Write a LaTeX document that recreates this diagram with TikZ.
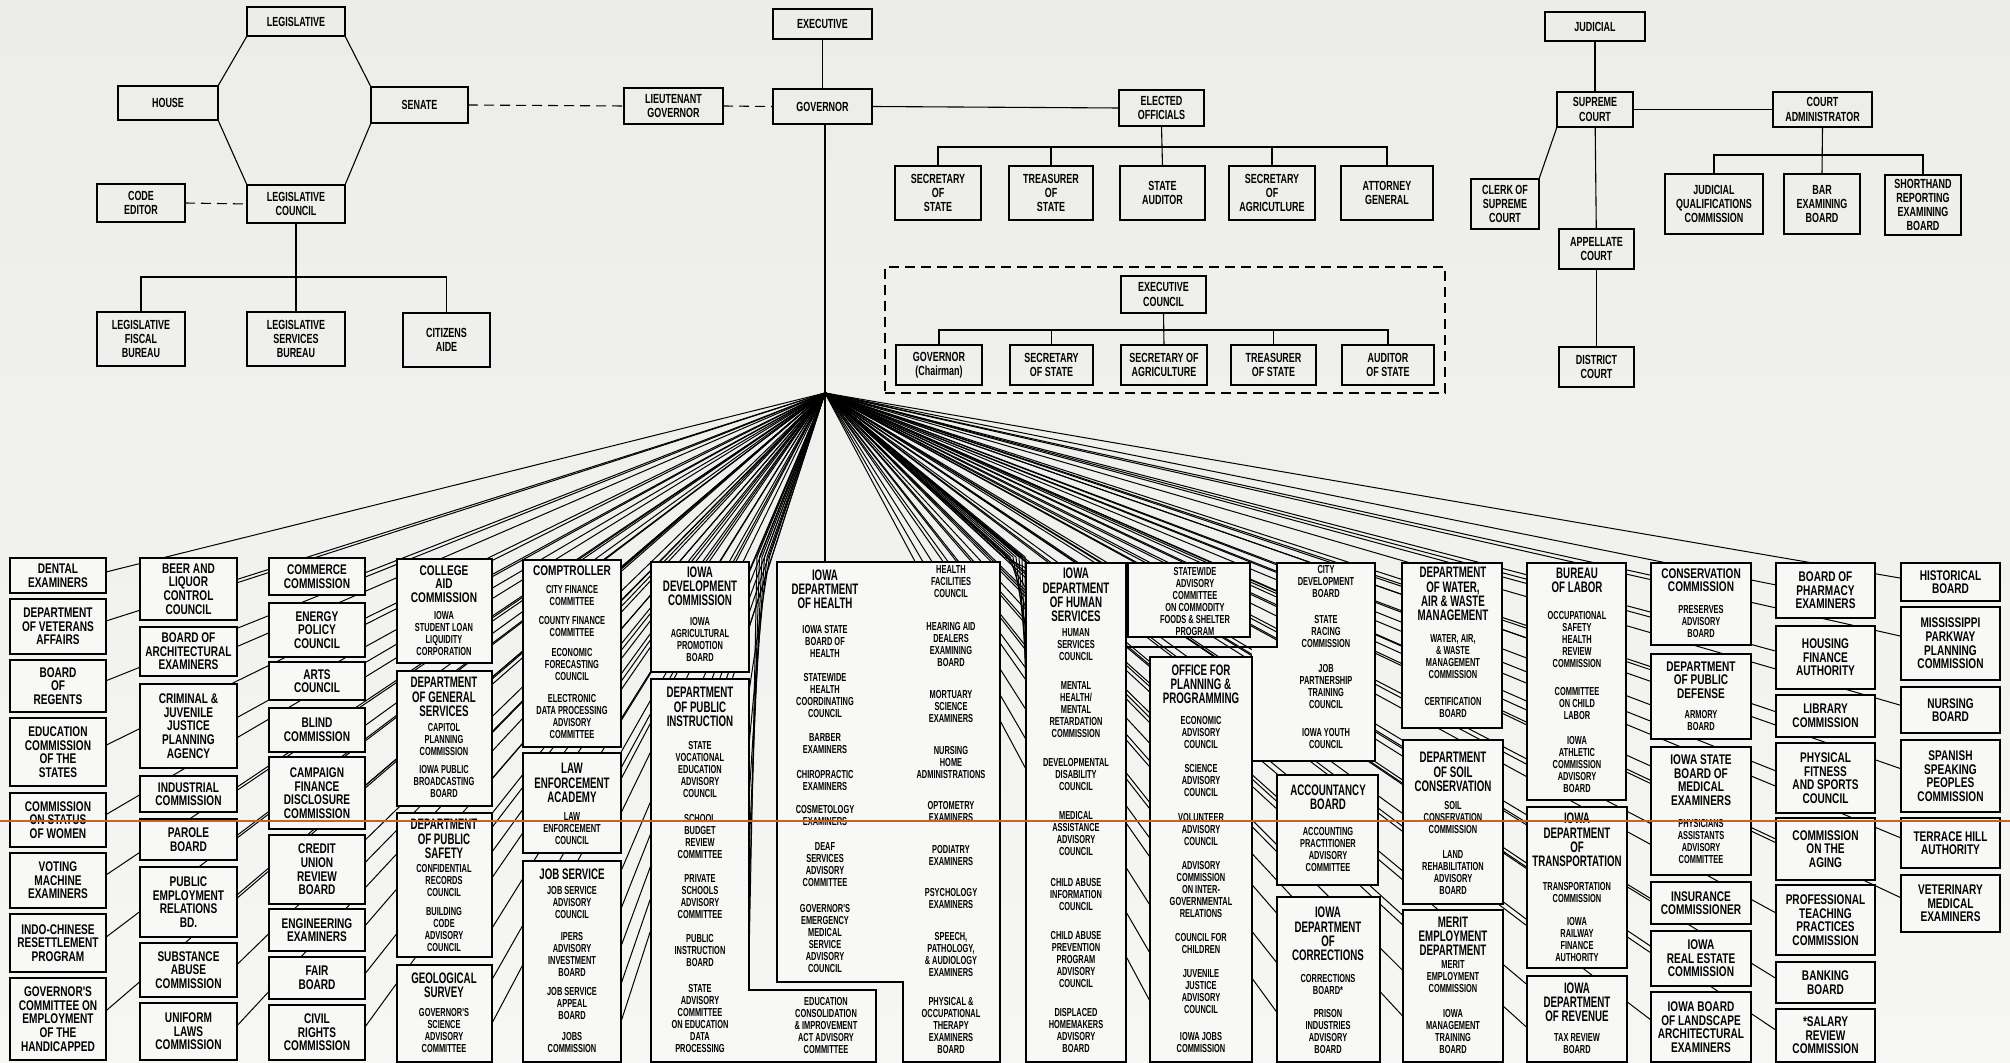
\documentclass[tikz,border=0pt]{standalone}
\usepackage{fontspec}
\setmainfont{Liberation Sans}
\newfontfamily\fA{Liberation Sans}[FakeStretch=0.72]
\newfontfamily\fB{Liberation Sans}[FakeStretch=0.64]
\newfontfamily\fT{Liberation Sans}[FakeStretch=0.68]
\usetikzlibrary{calc}
\pgfdeclarelayer{back}\pgfdeclarelayer{bg}
\pgfsetlayers{back,bg,main}
\definecolor{boxfill}{RGB}{248,248,246}
\definecolor{papertop}{RGB}{236,236,233}
\definecolor{paperbot}{RGB}{246,246,244}
\definecolor{scanline}{RGB}{196,100,40}
\newcommand\ftitle{\fA\bfseries\fontsize{7}{6.8}\selectfont}
\newcommand\fdept{\fB\bfseries\fontsize{7.6}{7.1}\selectfont}
\newcommand\fsub{\fB\bfseries\fontsize{5.8}{6.0}\selectfont}
\newcommand\ftop{\fT\bfseries\fontsize{6.6}{7.1}\selectfont}
\newcounter{tnum}
% [style]{name}{x1}{y1}{x2}{y2}{text}
\newcommand\bxt[7][box]{%
  \pgfmathsetmacro\bxw{(#5-#3)/2}\pgfmathsetmacro\bxh{(#6-#4)/2}%
  \node[#1, minimum width=\bxw pt, minimum height=\bxh pt, anchor=north west] (#2) at (#3,#4) {#7};}
\newcommand\tx[4]{\stepcounter{tnum}\edef\tname{t\arabic{tnum}}%
  \node[txt, font=#3] (\tname) at (#1,#2) {#4};}
\newcommand\fanto[5]{%
  \foreach \k in {1,...,#3}{%
    \pgfmathsetmacro\ff{#4+(#5-#4)*(\k-1)/max(#3-1,1)}%
    \draw[fanline] (hub) -- ($(#1.north #2)!\ff!(#1.south #2)$);}}
\newcommand\fanvia[7]{%
  \foreach \k in {1,...,#3}{%
    \pgfmathsetmacro\ff{#4+(#5-#4)*(\k-1)/max(#3-1,1)}%
    \draw[fanline] (hub) -- ($(#6)+(\k*#7,0)$) -- ($(#1.north #2)!\ff!(#1.south #2)$);}}
\begin{document}
\begin{tikzpicture}[x=0.5pt,y=-0.5pt,
  box/.style={draw, line width=0.65pt, fill=boxfill, inner sep=1pt, outer sep=0pt},
  sbox/.style={box, font=\ftitle, align=center},
  ghost/.style={draw=none, inner sep=0pt, outer sep=0pt},
  dashbox/.style={draw, line width=0.55pt, dash pattern=on 5pt off 3pt, inner sep=0pt, outer sep=0pt},
  topbox/.style={draw, line width=0.55pt, inner sep=1pt, outer sep=0pt, font=\ftop, align=center},
  txt/.style={inner sep=0pt, align=center},
  fanline/.style={line width=0.5pt},
  link/.style={line width=0.55pt},
  dlink/.style={line width=0.55pt, dash pattern=on 5pt off 3pt}]
\useasboundingbox (0,0) rectangle (2010,1063);
\begin{pgfonlayer}{back}
\shade[top color=papertop, bottom color=paperbot] (0,0) rectangle (2010,1063);
\end{pgfonlayer}

% ---------------- LEGISLATIVE ----------------
\bxt[topbox]{leg}{247}{7}{345}{36}{LEGISLATIVE}
\bxt[topbox]{house}{118}{86}{218}{120}{HOUSE}
\bxt[topbox]{senate}{371}{87}{468}{123}{SENATE}
\bxt[topbox]{lcouncil}{247}{185}{345}{223}{LEGISLATIVE\\COUNCIL}
\bxt[topbox]{code}{97}{184}{185}{222}{CODE\\EDITOR}
\bxt[topbox]{lfb}{97}{312}{185}{366}{LEGISLATIVE\\FISCAL\\BUREAU}
\bxt[topbox]{lsb}{247}{312}{345}{366}{LEGISLATIVE\\SERVICES\\BUREAU}
\bxt[topbox]{aide}{403}{313}{490}{367}{CITIZENS\\AIDE}
\draw[link] (leg.south west) -- (house.north east) -- (house.south east) -- (lcouncil.north west);
\draw[link] (leg.south east) -- (senate.north west) -- (senate.south west) -- (lcouncil.north east);
\coordinate (lbus) at (296,277);
\draw[link] (lcouncil.south) -- (lsb.north);
\draw[link] (lfb.north) |- (lbus) -| (aide.north);
\draw[dlink] (code.east) -- (lcouncil.west);

% ---------------- EXECUTIVE ----------------
\bxt[topbox]{exec}{773}{9}{872}{39}{EXECUTIVE}
\bxt[topbox]{gov}{773}{89}{872}{124}{GOVERNOR}
\bxt[topbox]{ltgov}{624}{88}{723}{124}{LIEUTENANT\\GOVERNOR}
\bxt[topbox]{elected}{1119}{90}{1204}{126}{ELECTED\\OFFICIALS}
\draw[dlink] (senate.east) -- (ltgov.west);
\draw[dlink] (ltgov.east) -- (gov.west);
\draw[link] (exec) -- (gov);
\draw[link] (gov.east) -- (elected.west);
\bxt[topbox]{sos}{895}{166}{981}{220}{SECRETARY\\OF\\STATE}
\bxt[topbox]{treas}{1009}{166}{1093}{220}{TREASURER\\OF\\STATE}
\bxt[topbox]{aud}{1120}{166}{1205}{220}{STATE\\AUDITOR}
\bxt[topbox]{sag}{1229}{166}{1315}{220}{SECRETARY\\OF\\AGRICUTLURE}
\bxt[topbox]{ag}{1341}{166}{1433}{220}{ATTORNEY\\GENERAL}
\coordinate (ebus) at (1162,147);
\draw[link] (elected.south) -- (aud.north);
\draw[link] (sos.north) |- (ebus) -| (ag.north);
\draw[link] (treas.north) -- (treas.north |- ebus);
\draw[link] (sag.north) -- (sag.north |- ebus);
\bxt[dashbox]{ecgroup}{885}{267}{1445}{393}{}
\bxt[topbox]{ec}{1121}{276}{1206}{313}{EXECUTIVE\\COUNCIL}
\bxt[topbox]{cgov}{896}{345}{982}{385}{GOVERNOR\\(Chairman)}
\bxt[topbox]{csos}{1010}{345}{1093}{385}{SECRETARY\\OF STATE}
\bxt[topbox]{csag}{1121}{345}{1207}{385}{SECRETARY OF\\AGRICULTURE}
\bxt[topbox]{ctreas}{1231}{345}{1316}{385}{TREASURER\\OF STATE}
\bxt[topbox]{caud}{1342}{345}{1434}{385}{AUDITOR\\OF STATE}
\coordinate (cbus) at (1164,330);
\draw[link] (ec.south) -- (csag.north);
\draw[link] (cgov.north) |- (cbus) -| (caud.north);
\draw[link] (csos.north) -- (csos.north |- cbus);
\draw[link] (ctreas.north) -- (ctreas.north |- cbus);

% ---------------- JUDICIAL ----------------
\bxt[topbox]{jud}{1545}{12}{1645}{41}{JUDICIAL}
\bxt[topbox]{sup}{1557}{92}{1633}{127}{SUPREME\\COURT}
\bxt[topbox]{cadm}{1773}{92}{1872}{127}{COURT\\ADMINISTRATOR}
\bxt[topbox]{clerk}{1471}{179}{1539}{229}{CLERK OF\\SUPREME\\COURT}
\bxt[topbox]{app}{1559}{229}{1634}{269}{APPELLATE\\COURT}
\bxt[topbox]{dist}{1559}{347}{1634}{387}{DISTRICT\\COURT}
\bxt[topbox]{jqc}{1665}{174}{1763}{234}{JUDICIAL\\QUALIFICATIONS\\COMMISSION}
\bxt[topbox]{bar}{1784}{174}{1860}{234}{BAR\\EXAMINING\\BOARD}
\bxt[topbox]{shr}{1885}{175}{1961}{235}{SHORTHAND\\REPORTING\\EXAMINING\\BOARD}
\coordinate (jbus) at (1822,155);
\draw[link] (jud) -- (sup);
\draw[link] (sup) -- (app);
\draw[link] (app) -- (dist);
\draw[link] (sup.south west) -- (clerk.north east);
\draw[link] (sup.east) -- (cadm.west);
\draw[link] (cadm.south) -- (bar.north);
\draw[link] (jqc.north) |- (jbus) -| (shr.north);

% ---------------- HUB ----------------
\coordinate (hub) at (825,393);
\coordinate (healthtop) at (825,562);
\coordinate (viaPI) at (772,557);
\coordinate (viaHS) at (1001,557);
\draw[link] (gov.south -| hub) -- (hub) -- (healthtop);

% ---------------- COLUMN 1 ----------------
\bxt[sbox]{c1a}{10}{558}{106}{593}{DENTAL\\EXAMINERS}
\bxt[sbox]{c1b}{10}{599}{106}{654}{DEPARTMENT\\OF VETERANS\\AFFAIRS}
\bxt[sbox]{c1c}{10}{660}{106}{712}{BOARD\\OF\\REGENTS}
\bxt[sbox]{c1d}{10}{718}{106}{786}{EDUCATION\\COMMISSION\\OF THE\\STATES}
\bxt[sbox]{c1e}{10}{793}{106}{847}{COMMISSION\\ON STATUS\\OF WOMEN}
\bxt[sbox]{c1f}{10}{853}{106}{908}{VOTING\\MACHINE\\EXAMINERS}
\bxt[sbox]{c1g}{10}{914}{106}{972}{INDO-CHINESE\\RESETTLEMENT\\PROGRAM}
\bxt[sbox]{c1h}{10}{978}{106}{1060}{GOVERNOR'S\\COMMITTEE ON\\EMPLOYMENT\\OF THE\\HANDICAPPED}
% ---------------- COLUMN 2 ----------------
\bxt[sbox]{c2a}{140}{558}{237}{620}{BEER AND\\LIQUOR\\CONTROL\\COUNCIL}
\bxt[sbox]{c2b}{140}{627}{237}{676}{BOARD OF\\ARCHITECTURAL\\EXAMINERS}
\bxt[sbox]{c2c}{140}{684}{237}{768}{CRIMINAL \&\\JUVENILE\\JUSTICE\\PLANNING\\AGENCY}
\bxt[sbox]{c2d}{140}{776}{237}{812}{INDUSTRIAL\\COMMISSION}
\bxt[sbox]{c2e}{140}{819}{237}{860}{PAROLE\\BOARD}
\bxt[sbox]{c2f}{140}{867}{237}{937}{PUBLIC\\EMPLOYMENT\\RELATIONS\\BD.}
\bxt[sbox]{c2g}{140}{943}{237}{997}{SUBSTANCE\\ABUSE\\COMMISSION}
\bxt[sbox]{c2h}{140}{1003}{237}{1060}{UNIFORM\\LAWS\\COMMISSION}
% ---------------- COLUMN 3 ----------------
\bxt[sbox]{c3a}{269}{558}{365}{595}{COMMERCE\\COMMISSION}
\bxt[sbox]{c3b}{269}{603}{365}{657}{ENERGY\\POLICY\\COUNCIL}
\bxt[sbox]{c3c}{269}{662}{365}{700}{ARTS\\COUNCIL}
\bxt[sbox]{c3d}{269}{708}{365}{752}{BLIND\\COMMISSION}
\bxt[sbox]{c3e}{269}{757}{365}{829}{CAMPAIGN\\FINANCE\\DISCLOSURE\\COMMISSION}
\bxt[sbox]{c3f}{269}{835}{365}{904}{CREDIT\\UNION\\REVIEW\\BOARD}
\bxt[sbox]{c3g}{269}{909}{365}{951}{ENGINEERING\\EXAMINERS}
\bxt[sbox]{c3h}{269}{957}{365}{999}{FAIR\\BOARD}
\bxt[sbox]{c3i}{269}{1005}{365}{1060}{CIVIL\\RIGHTS\\COMMISSION}
% ---------------- COLUMN 4 ----------------
\bxt{caid}{397}{559}{492}{663}{}
\tx{444}{584}{\ftitle}{COLLEGE\\AID\\COMMISSION}
\tx{444}{634}{\fsub}{IOWA\\STUDENT LOAN\\LIQUIDITY\\CORPORATION}
\bxt{gsvc}{397}{671}{492}{806}{}
\tx{444}{697}{\fdept}{DEPARTMENT\\OF GENERAL\\SERVICES}
\tx{444}{740}{\fsub}{CAPITOL\\PLANNING\\COMMISSION}
\tx{444}{782}{\fsub}{IOWA PUBLIC\\BROADCASTING\\BOARD}
\bxt{psaf}{397}{813}{492}{957}{}
\tx{444}{839}{\fdept}{DEPARTMENT\\OF PUBLIC\\SAFETY}
\tx{444}{881}{\fsub}{CONFIDENTIAL\\RECORDS\\COUNCIL}
\tx{444}{930}{\fsub}{BUILDING\\CODE\\ADVISORY\\COUNCIL}
\bxt{geo}{397}{965}{492}{1062}{}
\tx{444}{985}{\fdept}{GEOLOGICAL\\SURVEY}
\tx{444}{1031}{\fsub}{GOVERNOR'S\\SCIENCE\\ADVISORY\\COMMITTEE}
% ---------------- COLUMN 5 ----------------
\bxt{comp}{523}{560}{621}{747}{}
\tx{572}{571}{\ftitle}{COMPTROLLER}
\tx{572}{596}{\fsub}{CITY FINANCE\\COMMITTEE}
\tx{572}{627}{\fsub}{COUNTY FINANCE\\COMMITTEE}
\tx{572}{665}{\fsub}{ECONOMIC\\FORECASTING\\COUNCIL}
\tx{572}{717}{\fsub}{ELECTRONIC\\DATA PROCESSING\\ADVISORY\\COMMITTEE}
\bxt{law}{523}{753}{621}{853}{}
\tx{572}{783}{\fdept}{LAW\\ENFORCEMENT\\ACADEMY}
\tx{572}{829}{\fsub}{LAW\\ENFORCEMENT\\COUNCIL}
\bxt{job}{523}{861}{621}{1062}{}
\tx{572}{874}{\fdept}{JOB SERVICE}
\tx{572}{903}{\fsub}{JOB SERVICE\\ADVISORY\\COUNCIL}
\tx{572}{955}{\fsub}{IPERS\\ADVISORY\\INVESTMENT\\BOARD}
\tx{572}{1004}{\fsub}{JOB SERVICE\\APPEAL\\BOARD}
\tx{572}{1043}{\fsub}{JOBS\\COMMISSION}
% ---------------- COLUMN 6 ----------------
\bxt{dev}{651}{562}{749}{672}{}
\tx{700}{586}{\fdept}{IOWA\\DEVELOPMENT\\COMMISSION}
\tx{700}{640}{\fsub}{IOWA\\AGRICULTURAL\\PROMOTION\\BOARD}
\filldraw[line width=0.65pt, fill=boxfill] (651,679) -- (749,679) -- (749,990) -- (876,990) -- (876,1062) -- (651,1062) -- cycle;
\bxt[ghost]{pubi}{651}{679}{749}{990}{}
\tx{700}{707}{\fdept}{DEPARTMENT\\OF PUBLIC\\INSTRUCTION}
\tx{700}{770}{\fsub}{STATE\\VOCATIONAL\\EDUCATION\\ADVISORY\\COUNCIL}
\tx{700}{837}{\fsub}{SCHOOL\\BUDGET\\REVIEW\\COMMITTEE}
\tx{700}{897}{\fsub}{PRIVATE\\SCHOOLS\\ADVISORY\\COMMITTEE}
\tx{700}{951}{\fsub}{PUBLIC\\INSTRUCTION\\BOARD}
\tx{700}{1019}{\fsub}{STATE\\ADVISORY\\COMMITTEE\\ON EDUCATION\\DATA\\PROCESSING}
\tx{826}{1026}{\fsub}{EDUCATION\\CONSOLIDATION\\\& IMPROVEMENT\\ACT ADVISORY\\COMMITTEE}
% ---------------- HEALTH ----------------
\filldraw[line width=0.65pt, fill=boxfill] (777,562) -- (1000,562) -- (1000,1062) -- (903,1062) -- (903,982) -- (777,982) -- cycle;
\tx{825}{589}{\fdept}{IOWA\\DEPARTMENT\\OF HEALTH}
\tx{825}{641}{\fsub}{IOWA STATE\\BOARD OF\\HEALTH}
\tx{825}{696}{\fsub}{STATEWIDE\\HEALTH\\COORDINATING\\COUNCIL}
\tx{825}{744}{\fsub}{BARBER\\EXAMINERS}
\tx{825}{781}{\fsub}{CHIROPRACTIC\\EXAMINERS}
\tx{825}{816}{\fsub}{COSMETOLOGY\\EXAMINERS}
\tx{825}{865}{\fsub}{DEAF\\SERVICES\\ADVISORY\\COMMITTEE}
\tx{825}{939}{\fsub}{GOVERNOR'S\\EMERGENCY\\MEDICAL\\SERVICE\\ADVISORY\\COUNCIL}
\tx{951}{582}{\fsub}{HEALTH\\FACILITIES\\COUNCIL}
\tx{951}{645}{\fsub}{HEARING AID\\DEALERS\\EXAMINING\\BOARD}
\tx{951}{707}{\fsub}{MORTUARY\\SCIENCE\\EXAMINERS}
\tx{951}{763}{\fsub}{NURSING\\HOME\\ADMINISTRATIONS}
\tx{951}{812}{\fsub}{OPTOMETRY\\EXAMINERS}
\tx{951}{856}{\fsub}{PODIATRY\\EXAMINERS}
\tx{951}{899}{\fsub}{PSYCHOLOGY\\EXAMINERS}
\tx{951}{955}{\fsub}{SPEECH,\\PATHOLOGY,\\\& AUDIOLOGY\\EXAMINERS}
\tx{951}{1026}{\fsub}{PHYSICAL \&\\OCCUPATIONAL\\THERAPY\\EXAMINERS\\BOARD}
% ---------------- HUMAN SERVICES ----------------
\bxt{hum}{1026}{563}{1126}{1062}{}
\tx{1076}{595}{\fdept}{IOWA\\DEPARTMENT\\OF HUMAN\\SERVICES}
\tx{1076}{645}{\fsub}{HUMAN\\SERVICES\\COUNCIL}
\tx{1076}{710}{\fsub}{MENTAL\\HEALTH/\\MENTAL\\RETARDATION\\COMMISSION}
\tx{1076}{775}{\fsub}{DEVELOPMENTAL\\DISABILITY\\COUNCIL}
\tx{1076}{834}{\fsub}{MEDICAL\\ASSISTANCE\\ADVISORY\\COUNCIL}
\tx{1076}{895}{\fsub}{CHILD ABUSE\\INFORMATION\\COUNCIL}
\tx{1076}{960}{\fsub}{CHILD ABUSE\\PREVENTION\\PROGRAM\\ADVISORY\\COUNCIL}
\tx{1076}{1031}{\fsub}{DISPLACED\\HOMEMAKERS\\ADVISORY\\BOARD}
% ---------------- STATEWIDE / OFFICE ----------------
\bxt{sw}{1128}{563}{1250}{637}{}
\tx{1195}{602}{\fsub}{STATEWIDE\\ADVISORY\\COMMITTEE\\ON COMMODITY\\FOODS \& SHELTER\\PROGRAM}
\fill[boxfill] (1252,647) -- (1277,647) -- (1277,563) -- (1375,563) -- (1375,761) -- (1252,761) -- cycle;
\draw[line width=0.65pt] (1126,647) -- (1277,647) -- (1277,563) -- (1375,563) -- (1375,761) -- (1252,761) -- (1252,1062);
\bxt[ghost]{cdev}{1277}{563}{1375}{647}{}
\bxt{off}{1150}{657}{1252}{1062}{}
\tx{1201}{684}{\fdept}{OFFICE FOR\\PLANNING \&\\PROGRAMMING}
\tx{1201}{733}{\fsub}{ECONOMIC\\ADVISORY\\COUNCIL}
\tx{1201}{781}{\fsub}{SCIENCE\\ADVISORY\\COUNCIL}
\tx{1201}{830}{\fsub}{VOLUNTEER\\ADVISORY\\COUNCIL}
\tx{1201}{890}{\fsub}{ADVISORY\\COMMISSION\\ON INTER-\\GOVERNMENTAL\\RELATIONS}
\tx{1201}{944}{\fsub}{COUNCIL FOR\\CHILDREN}
\tx{1201}{992}{\fsub}{JUVENILE\\JUSTICE\\ADVISORY\\COUNCIL}
\tx{1201}{1043}{\fsub}{IOWA JOBS\\COMMISSION}
\tx{1326}{582}{\fsub}{CITY\\DEVELOPMENT\\BOARD}
\tx{1326}{632}{\fsub}{STATE\\RACING\\COMMISSION}
\tx{1326}{687}{\fsub}{JOB\\PARTNERSHIP\\TRAINING\\COUNCIL}
\tx{1326}{739}{\fsub}{IOWA YOUTH\\COUNCIL}
\bxt{acct}{1277}{775}{1378}{885}{}
\tx{1328}{797}{\fdept}{ACCOUNTANCY\\BOARD}
\tx{1328}{850}{\fsub}{ACCOUNTING\\PRACTITIONER\\ADVISORY\\COMMITTEE}
\bxt{corr}{1277}{897}{1380}{1062}{}
\tx{1328}{934}{\fdept}{IOWA\\DEPARTMENT\\OF\\CORRECTIONS}
\tx{1328}{985}{\fsub}{CORRECTIONS\\BOARD*}
\tx{1328}{1032}{\fsub}{PRISON\\INDUSTRIES\\ADVISORY\\BOARD}
% ---------------- WATER / SOIL / MERIT ----------------
\bxt{water}{1402}{563}{1502}{728}{}
\tx{1453}{594}{\fdept}{DEPARTMENT\\OF WATER,\\AIR \& WASTE\\MANAGEMENT}
\tx{1453}{657}{\fsub}{WATER, AIR,\\\& WASTE\\MANAGEMENT\\COMMISSION}
\tx{1453}{708}{\fsub}{CERTIFICATION\\BOARD}
\bxt{soil}{1403}{740}{1503}{904}{}
\tx{1453}{772}{\fdept}{DEPARTMENT\\OF SOIL\\CONSERVATION}
\tx{1453}{818}{\fsub}{SOIL\\CONSERVATION\\COMMISSION}
\tx{1453}{873}{\fsub}{LAND\\REHABILITATION\\ADVISORY\\BOARD}
\bxt{merit}{1403}{910}{1503}{1062}{}
\tx{1453}{936}{\fdept}{MERIT\\EMPLOYMENT\\DEPARTMENT}
\tx{1453}{977}{\fsub}{MERIT\\EMPLOYMENT\\COMMISSION}
\tx{1453}{1032}{\fsub}{IOWA\\MANAGEMENT\\TRAINING\\BOARD}
% ---------------- LABOR / TRANSPORTATION / REVENUE ----------------
\bxt{labor}{1527}{563}{1626}{800}{}
\tx{1577}{580}{\fdept}{BUREAU\\OF LABOR}
\tx{1577}{640}{\fsub}{OCCUPATIONAL\\SAFETY\\HEALTH\\REVIEW\\COMMISSION}
\tx{1577}{704}{\fsub}{COMMITTEE\\ON CHILD\\LABOR}
\tx{1577}{765}{\fsub}{IOWA\\ATHLETIC\\COMMISSION\\ADVISORY\\BOARD}
\bxt{transp}{1527}{807}{1627}{968}{}
\tx{1577}{840}{\fdept}{IOWA\\DEPARTMENT\\OF\\TRANSPORTATION}
\tx{1577}{893}{\fsub}{TRANSPORTATION\\COMMISSION}
\tx{1577}{940}{\fsub}{IOWA\\RAILWAY\\FINANCE\\AUTHORITY}
\bxt{rev}{1527}{976}{1627}{1062}{}
\tx{1577}{1002}{\fdept}{IOWA\\DEPARTMENT\\OF REVENUE}
\tx{1577}{1044}{\fsub}{TAX REVIEW\\BOARD}
% ---------------- COLUMN 14 ----------------
\bxt{cons}{1651}{563}{1751}{645}{}
\tx{1701}{580}{\ftitle}{CONSERVATION\\COMMISSION}
\tx{1701}{622}{\fsub}{PRESERVES\\ADVISORY\\BOARD}
\bxt{def}{1651}{654}{1751}{739}{}
\tx{1701}{680}{\ftitle}{DEPARTMENT\\OF PUBLIC\\DEFENSE}
\tx{1701}{721}{\fsub}{ARMORY\\BOARD}
\bxt{med}{1651}{747}{1751}{875}{}
\tx{1701}{780}{\ftitle}{IOWA STATE\\BOARD OF\\MEDICAL\\EXAMINERS}
\tx{1701}{842}{\fsub}{PHYSICIANS\\ASSISTANTS\\ADVISORY\\COMMITTEE}
\bxt[sbox]{ins}{1651}{882}{1751}{924}{INSURANCE\\COMMISSIONER}
\bxt[sbox]{rest}{1651}{931}{1751}{986}{IOWA\\REAL ESTATE\\COMMISSION}
\bxt[sbox]{land}{1651}{992}{1751}{1062}{IOWA BOARD\\OF LANDSCAPE\\ARCHITECTURAL\\EXAMINERS}
% ---------------- COLUMN 15 ----------------
\bxt[sbox]{c15a}{1776}{563}{1875}{618}{BOARD OF\\PHARMACY\\EXAMINERS}
\bxt[sbox]{c15b}{1776}{626}{1875}{689}{HOUSING\\FINANCE\\AUTHORITY}
\bxt[sbox]{c15c}{1776}{695}{1875}{737}{LIBRARY\\COMMISSION}
\bxt[sbox]{c15d}{1776}{743}{1875}{813}{PHYSICAL\\FITNESS\\AND SPORTS\\COUNCIL}
\bxt[sbox]{c15e}{1776}{818}{1875}{880}{COMMISSION\\ON THE\\AGING}
\bxt[sbox]{c15f}{1776}{885}{1875}{955}{PROFESSIONAL\\TEACHING\\PRACTICES\\COMMISSION}
\bxt[sbox]{c15g}{1776}{962}{1875}{1003}{BANKING\\BOARD}
\bxt[sbox]{c15h}{1776}{1009}{1875}{1062}{*SALARY\\REVIEW\\COMMISSION}
% ---------------- COLUMN 16 ----------------
\bxt[sbox]{c16a}{1901}{563}{2000}{601}{HISTORICAL\\BOARD}
\bxt[sbox]{c16b}{1901}{607}{2000}{680}{MISSISSIPPI\\PARKWAY\\PLANNING\\COMMISSION}
\bxt[sbox]{c16c}{1901}{687}{2000}{733}{NURSING\\BOARD}
\bxt[sbox]{c16d}{1901}{740}{2000}{812}{SPANISH\\SPEAKING\\PEOPLES\\COMMISSION}
\bxt[sbox]{c16e}{1901}{818}{2000}{868}{TERRACE HILL\\AUTHORITY}
\bxt[sbox]{c16f}{1901}{875}{2000}{932}{VETERINARY\\MEDICAL\\EXAMINERS}

% ---------------- FAN OF CONNECTORS ----------------
\begin{pgfonlayer}{bg}
\foreach \b in {c1a,c1b,c1c,c1d,c1e,c1f,c1g,c1h,c2a,c2b,c2c,c2d,c2e,c2f,c2g,c2h,c3a,c3b,c3c,c3d,c3e,c3f,c3g,c3h,c3i}{\fanto{\b}{east}{1}{0.4}{0.4}}
\fanto{caid}{east}{2}{0.15}{0.6}
\fanto{gsvc}{east}{3}{0.1}{0.8}
\fanto{psaf}{east}{3}{0.1}{0.8}
\fanto{geo}{east}{2}{0.15}{0.6}
\fanto{comp}{east}{5}{0.05}{0.85}
\fanto{law}{east}{2}{0.15}{0.6}
\fanto{job}{east}{5}{0.05}{0.8}
\fanto{dev}{east}{2}{0.1}{0.6}
\fanvia{pubi}{east}{6}{0.04}{0.9}{viaPI}{-2.5}
\fanvia{hum}{west}{8}{0.01}{0.3}{viaHS}{3}
\draw[fanline] (hub) -- ($(sw.north west)!0.3!(sw.north east)$);
\fanto{off}{west}{8}{0.02}{0.85}
\fanto{cdev}{west}{4}{0.1}{0.9}
\fanto{acct}{west}{2}{0.2}{0.7}
\fanto{corr}{west}{3}{0.1}{0.7}
\fanto{water}{west}{3}{0.1}{0.5}
\fanto{soil}{west}{3}{0.1}{0.8}
\fanto{merit}{west}{3}{0.1}{0.7}
\fanto{labor}{west}{4}{0.05}{0.85}
\fanto{transp}{west}{3}{0.05}{0.7}
\fanto{rev}{west}{2}{0.1}{0.6}
\fanto{cons}{west}{2}{0.15}{0.6}
\fanto{def}{west}{2}{0.15}{0.6}
\fanto{med}{west}{2}{0.15}{0.6}
\foreach \b in {ins,rest,land,c15a,c15b,c15c,c15d,c15e,c15f,c15g,c15h,c16a,c16b,c16c,c16d,c16e,c16f}{\fanto{\b}{west}{1}{0.4}{0.4}}
\end{pgfonlayer}

% scan line across the sheet
\coordinate (scanL) at (0,821);
\coordinate (scanR) at (2010,821);
\draw[scanline, line width=0.8pt] (scanL) -- (scanR);
\end{tikzpicture}
\end{document}
